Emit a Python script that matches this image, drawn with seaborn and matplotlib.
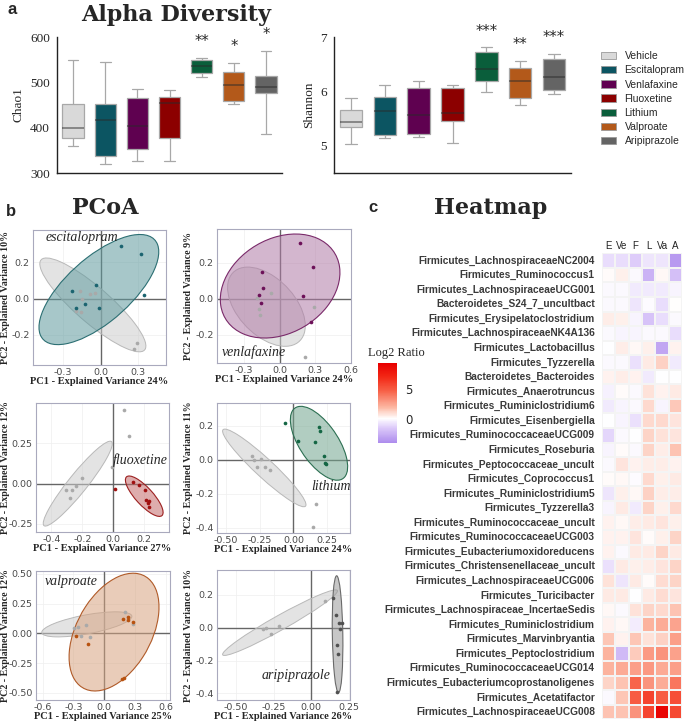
import numpy as np
import pandas as pd
import matplotlib
matplotlib.use("Agg")
import matplotlib.pyplot as plt
import seaborn as sns
from matplotlib.patches import Ellipse, Patch
from matplotlib.colors import LinearSegmentedColormap, to_rgba
from matplotlib.ticker import FormatStrFormatter

# ---------------- data ----------------
groups = ["Vehicle", "Escitalopram", "Venlafaxine", "Fluoxetine",
          "Lithium", "Valproate", "Aripiprazole"]
group_colors = ["#d9d9d9", "#0c5562", "#5f0150", "#8c0000",
                "#0a5e3b", "#b3591a", "#646464"]

# min, q1, median, q3, max per group
chao1_values = [
    [359, 378, 399, 453, 549],
    [320, 338, 417, 453, 544],
    [327, 354, 404, 465, 486],
    [327, 378, 454, 468, 484],
    [511, 521, 536, 549, 553],
    [453, 459, 494, 523, 543],
    [386, 476, 489, 513, 569],
]
chao1_stars = ["", "", "", "", "**", "*", "*"]

shannon_values = [
    [5.03, 5.34, 5.43, 5.66, 5.87],
    [5.15, 5.19, 5.64, 5.90, 6.12],
    [5.17, 5.21, 5.57, 6.06, 6.19],
    [5.06, 5.45, 5.61, 6.06, 6.11],
    [5.98, 6.19, 6.41, 6.72, 6.81],
    [5.75, 5.88, 6.20, 6.43, 6.56],
    [5.96, 6.03, 6.26, 6.59, 6.69],
]
shannon_stars = ["", "", "", "", "***", "**", "***"]

# PCoA points (PC1, PC2): drug group and its vehicle group
esc_pts = [(0.163, 0.289), (0.317, 0.245), (0.344, 0.019), (-0.04, 0.076),
           (-0.226, 0.043), (-0.194, -0.05), (-0.128, -0.031), (-0.013, -0.053)]
esc_veh = [(-0.168, 0.044), (-0.048, 0.033), (-0.088, 0.026), (-0.15, -0.002),
           (-0.2, -0.067), (-0.16, -0.072), (0.29, -0.248), (0.267, -0.281)]
ven_pts = [(0.17, 0.308), (-0.147, 0.148), (0.28, 0.178), (-0.136, 0.059),
           (-0.174, 0.019), (0.194, 0.015), (-0.155, -0.026), (0.264, -0.129)]
ven_veh = [(-0.187, 0.002), (-0.07, 0.033), (-0.171, -0.059), (-0.16, -0.09),
           (0.29, -0.048), (0.213, -0.322)]
flx_pts = [(0.008, -0.036), (0.13, 0.008), (0.163, -0.011), (0.203, -0.042),
           (0.214, -0.1), (0.229, -0.105), (0.223, -0.119), (0.229, -0.142)]
flx_veh = [(0.068, 0.458), (0.1, 0.296), (-0.203, 0.033), (-0.242, -0.017),
           (-0.265, -0.038), (-0.306, -0.042), (-0.282, -0.09), (-0.01, 0.104)]
lit_pts = [(-0.063, 0.216), (0.036, 0.114), (0.191, 0.192), (0.201, 0.171),
           (0.159, 0.104), (0.228, 0.024), (0.233, -0.016), (0.241, -0.022)]
lit_veh = [(-0.305, 0.024), (-0.293, 0.0), (-0.241, 0.008), (-0.273, -0.039),
           (-0.211, -0.039), (-0.174, -0.059), (0.164, -0.259), (0.142, -0.392)]
val_pts = [(0.179, 0.121), (0.228, 0.135), (0.228, 0.11), (0.276, 0.093),
           (-0.276, -0.022), (-0.162, -0.091), (0.172, -0.386), (0.195, -0.375)]
val_veh = [(-0.295, 0.044), (-0.259, 0.05), (-0.181, 0.066), (-0.23, -0.022),
           (-0.139, -0.028), (0.202, 0.176), (0.283, 0.074)]
ari_pts = [(0.148, 0.18), (0.166, 0.074), (0.188, 0.03), (0.206, 0.03),
           (0.192, -0.01), (0.17, -0.106), (0.183, -0.16), (0.17, -0.39)]
ari_veh = [(-0.321, -0.006), (-0.299, -0.004), (-0.215, 0.01), (-0.265, -0.038),
           (0.095, 0.164)]

# confidence ellipses: centre x, centre y, semi-major, semi-minor, angle (deg)
esc_ell = [(-0.015, 0.05, 0.53, 0.20, 28), (-0.063, -0.035, 0.484, 0.11, -30)]
ven_ell = [(0.005, 0.07, 0.51, 0.275, 12), (-0.11, -0.045, 0.35, 0.18, -25)]
flx_ell = [(0.2, -0.078, 0.166, 0.055, -46), (-0.23, 0.0, 0.34, 0.06, 50)]
lit_ell = [(0.19, 0.098, 0.275, 0.13, -46), (-0.216, -0.047, 0.38, 0.06, -36)]
val_ell = [(0.095, 0.01, 0.56, 0.35, 53), (-0.17, 0.075, 0.444, 0.08, 9)]
ari_ell = [(0.177, -0.04, 0.355, 0.035, 91), (-0.207, 0.03, 0.43, 0.045, 27)]

pc1_var = [24, 24, 27, 24, 25, 26]
pc2_var = [10, 9, 12, 11, 12, 10]

taxa = [
    "Firmicutes_LachnospiraceaeNC2004", "Firmicutes_Ruminococcus1",
    "Firmicutes_LachnospiraceaeUCG001", "Bacteroidetes_S24_7_uncultbact",
    "Firmicutes_Erysipelatoclostridium", "Firmicutes_LachnospiraceaeNK4A136",
    "Firmicutes_Lactobacillus", "Firmicutes_Tyzzerella",
    "Bacteroidetes_Bacteroides", "Firmicutes_Anaerotruncus",
    "Firmicutes_Ruminiclostridium6", "Firmicutes_Eisenbergiella",
    "Firmicutes_RuminococcaceaeUCG009", "Firmicutes_Roseburia",
    "Firmicutes_Peptococcaceae_uncult", "Firmicutes_Coprococcus1",
    "Firmicutes_Ruminiclostridium5", "Firmicutes_Tyzzerella3",
    "Firmicutes_Ruminococcaceae_uncult", "Firmicutes_RuminococcaceaeUCG003",
    "Firmicutes_Eubacteriumoxidoreducens", "Firmicutes_Christensenellaceae_uncult",
    "Firmicutes_LachnospiraceaeUCG006", "Firmicutes_Turicibacter",
    "Firmicutes_Lachnospiraceae_IncertaeSedis", "Firmicutes_Ruminiclostridium",
    "Firmicutes_Marvinbryantia", "Firmicutes_Peptoclostridium",
    "Firmicutes_RuminococcaceaeUCG014", "Firmicutes_Eubacteriumcoprostanoligenes",
    "Firmicutes_Acetatifactor", "Firmicutes_LachnospiraceaeUCG008",
]
drug_short = ["E", "Ve", "F", "L", "Va", "A"]
log2_ratio = [
    [-1.0, -1.0, -1.5, -0.7, -0.7, -3.5],
    [0.1, 0.4, -0.2, -2.5, 0.2, -2.0],
    [-0.2, -0.2, -0.6, -0.6, -0.6, -0.3],
    [-0.2, -0.2, -0.7, -0.1, -1.0, 0.05],
    [0.5, 0.4, -0.3, -1.8, -1.0, -0.2],
    [-0.2, -0.3, -0.3, -0.2, -0.2, -1.0],
    [0.0, 0.5, 0.2, 0.4, -3.0, 0.3],
    [-0.2, -0.2, -0.9, 0.6, 1.2, -0.6],
    [0.3, 0.5, 0.3, -0.6, 0.0, 0.0],
    [-0.4, 0.1, -0.2, 0.8, 0.3, 0.6],
    [-0.6, -0.3, -0.2, 1.0, -0.3, 1.4],
    [0.0, -0.3, -0.9, 1.0, 1.0, 0.7],
    [-1.2, -0.2, 0.0, 1.1, 0.8, 0.7],
    [-0.3, 0.1, -0.2, 1.1, 0.5, 1.6],
    [-0.2, 0.7, 0.3, 0.5, 0.5, 0.3],
    [0.1, 0.2, -0.1, 1.0, 0.4, 0.6],
    [-0.7, 0.4, 0.2, 1.2, 0.5, 0.5],
    [-0.3, 0.6, -0.6, 1.1, 0.4, 1.0],
    [0.3, 0.2, 0.5, 0.6, 0.7, 0.4],
    [0.3, 0.3, 0.7, 0.1, 0.4, 1.1],
    [0.3, -0.2, 0.6, 0.6, 1.1, 0.6],
    [-0.9, 0.6, 0.4, 0.5, 0.7, 1.1],
    [0.8, -0.7, 0.6, 0.1, 0.9, 1.1],
    [0.6, 0.6, 0.0, 0.6, 0.9, 0.7],
    [0.2, -0.2, 0.8, 1.1, 1.0, 1.6],
    [0.3, 0.2, -0.5, 2.0, 2.2, 2.5],
    [1.5, 0.3, 1.5, 0.8, 1.2, 2.7],
    [2.0, -2.2, 1.3, 2.8, 3.0, 2.6],
    [2.0, 2.3, 2.7, 2.9, 2.3, 2.7],
    [1.1, 1.6, 4.5, 3.0, 2.2, 4.0],
    [-0.2, 1.5, 4.8, 5.8, 4.8, 5.4],
    [1.6, 1.6, 3.0, 5.8, 9.0, 5.6],
]

# ---------------- figure ----------------
sns.set_style("white")
plt.rcParams["font.family"] = ["DejaVu Sans"]
plt.rcParams["axes.unicode_minus"] = False

W, H = 685, 724
fig = plt.figure(figsize=(W / 100, H / 100), dpi=100)


def px_axes(l, t, w, h):
    return fig.add_axes([l / W, 1 - (t + h) / H, w / W, h / H])


def ftext(x, y, s, **kw):
    fig.text(x / W, 1 - y / H, s, **kw)


serif = "Liberation Serif"
title_kw = dict(family="DejaVu Serif", fontweight="bold", fontsize=16,
                ha="center", va="center")
panel_kw = dict(family="Liberation Sans", fontweight="bold", fontsize=12,
                ha="left", va="center")

ftext(8, 9, "a", **panel_kw)
ftext(176, 15, "Alpha Diversity", **title_kw)
ftext(6, 211, "b", **panel_kw)
ftext(105, 208, "PCoA", **title_kw)
ftext(368, 208, "c", **panel_kw)
ftext(491, 208, "Heatmap", **title_kw)


# ---- a: boxplots ----
def box_panel(ax, values, stars, ylabel, ylim, yticks):
    df = pd.DataFrame({"group": np.repeat(groups, [len(v) for v in values]),
                       "value": np.concatenate(values)})
    sns.boxplot(data=df, x="group", y="value", hue="group", order=groups,
                hue_order=groups, palette=group_colors, saturation=1,
                legend=False, whis=(0, 100), width=0.66, linewidth=0.9,
                linecolor="#a8a8a8",
                medianprops=dict(color="#2a2a2a", alpha=0.6, linewidth=1.1),
                ax=ax)
    span = ylim[1] - ylim[0]
    for i, s in enumerate(stars):
        if s:
            ax.text(i, max(values[i]) + 0.12 * span, s, ha="center",
                    va="center", fontsize=10.5, clip_on=False)
    ax.set_ylim(*ylim)
    ax.set_yticks(yticks)
    ax.set_xticks([])
    ax.set_xlabel("")
    ax.set_ylabel(ylabel, family=serif, fontsize=9.5, labelpad=4)
    for lab in ax.get_yticklabels():
        lab.set_family(serif)
        lab.set_fontsize(9.5)
    ax.tick_params(axis="y", length=4, width=1, color="#222222", pad=1)
    sns.despine(ax=ax)
    for sp in ["left", "bottom"]:
        ax.spines[sp].set_color("#222222")
        ax.spines[sp].set_linewidth(1)


ax_c = px_axes(57, 37, 225, 136)
box_panel(ax_c, chao1_values, chao1_stars, "Chao1", (300, 600),
          [300, 400, 500, 600])
ax_s = px_axes(334, 37, 237, 136)
box_panel(ax_s, shannon_values, shannon_stars, "Shannon", (4.5, 7),
          [5, 6, 7])

handles = [Patch(facecolor=c, edgecolor="#9a9a9a", linewidth=0.6)
           for c in group_colors]
fig.legend(handles, groups, loc="upper left",
           bbox_to_anchor=(597 / W, 1 - 47 / H), frameon=False,
           prop=dict(family="Liberation Sans", size=7.5),
           handlelength=1.45, handleheight=0.7, labelspacing=0.4,
           handletextpad=0.8, borderaxespad=0)

# ---- b: PCoA ----
veh_point = "#a9a9a9"
veh_face = "#cccccc"
veh_edge = "#b8b8b8"

pcoa_panels = [
    # name, pts, veh, ellipses, point col, face, edge, rect, xlim, ylim, xt, yt, xfmt, yfmt, label pos
    ("escitalopram", esc_pts, esc_veh, esc_ell, "#1b6470", "#5f9a9e", "#2c6f73",
     (33, 230, 133, 135), (-0.54, 0.52), (-0.368, 0.38),
     [-0.3, 0, 0.3], [-0.2, 0, 0.2], "%.1f", "%.1f", (-0.44, 0.34)),
    ("venlafaxine", ven_pts, ven_veh, ven_ell, "#6c1058", "#b07aa6", "#7a2a6a",
     (217, 229, 134, 134), (-0.525, 0.55), (-0.358, 0.387),
     [-0.3, 0, 0.3, 0.6], [-0.2, 0, 0.2], "%.1f", "%.1f", (-0.488, -0.30)),
    ("fluoxetine", flx_pts, flx_veh, flx_ell, "#a01010", "#c46a6a", "#9c2020",
     (36, 403, 133, 129), (-0.5, 0.36), (-0.30, 0.50),
     [-0.4, -0.2, 0, 0.2], [-0.25, 0, 0.25], "%.1f", "%.2f", (0.0, 0.145)),
    ("lithium", lit_pts, lit_veh, lit_ell, "#146644", "#72a58e", "#2c6f52",
     (217, 403, 133, 130), (-0.567, 0.42), (-0.43, 0.335),
     [-0.5, -0.25, 0, 0.25], [-0.4, -0.2, 0, 0.2], "%.2f", "%.1f", (0.135, -0.157)),
    ("valproate", val_pts, val_veh, val_ell, "#b8520f", "#d7a380", "#b05a28",
     (36, 571, 134, 129), (-0.665, 0.64), (-0.56, 0.523),
     [-0.6, -0.3, 0, 0.3, 0.6], [-0.5, -0.25, 0, 0.25, 0.5], "%.1f", "%.2f",
     (-0.577, 0.432)),
    ("aripiprazole", ari_pts, ari_veh, ari_ell, "#505050", "#9a9a9a", "#6a6a6a",
     (217, 570, 133, 130), (-0.628, 0.26), (-0.44, 0.35),
     [-0.5, -0.25, 0, 0.25], [-0.4, -0.2, 0, 0.2], "%.2f", "%.1f", (-0.332, -0.29)),
]

for k, (name, pts, veh, ells, pcol, face, edge, rect, xlim, ylim, xt, yt,
        xfmt, yfmt, lpos) in enumerate(pcoa_panels):
    ax = px_axes(*rect)
    ax.set_xlim(*xlim)
    ax.set_ylim(*ylim)
    ax.grid(True, color="#efefef", linewidth=0.5)
    ax.set_axisbelow(True)
    ax.axhline(0, color="#666666", lw=1, zorder=1)
    ax.axvline(0, color="#666666", lw=1, zorder=1)
    (dcx, dcy, da, db, dang), (vcx, vcy, va_, vb, vang) = ells
    ax.add_patch(Ellipse((vcx, vcy), 2 * va_, 2 * vb, angle=vang,
                         facecolor=to_rgba(veh_face, 0.55), edgecolor=veh_edge,
                         lw=0.7, zorder=2))
    ax.add_patch(Ellipse((dcx, dcy), 2 * da, 2 * db, angle=dang,
                         facecolor=to_rgba(face, 0.55), edgecolor=edge,
                         lw=0.8, zorder=3))
    vx, vy = zip(*veh)
    dx, dy = zip(*pts)
    sns.scatterplot(x=list(vx), y=list(vy), color=veh_point, s=7,
                    linewidth=0, ax=ax, zorder=4)
    sns.scatterplot(x=list(dx), y=list(dy), color=pcol, s=7,
                    linewidth=0, ax=ax, zorder=5)
    ax.text(lpos[0], lpos[1], name, family=serif, style="italic",
            fontsize=10, ha="left", va="center", zorder=6)
    ax.set_xticks(xt)
    ax.set_yticks(yt)
    ax.xaxis.set_major_formatter(FormatStrFormatter(xfmt))
    ax.yaxis.set_major_formatter(FormatStrFormatter(yfmt))
    ax.tick_params(labelsize=6.8, labelcolor="#4a4a4a", length=1.5,
                   color="#888888", pad=1)
    for sp in ax.spines.values():
        sp.set_color("#a9a9bd")
        sp.set_linewidth(0.8)
    ax.set_xlabel(f"PC1 - Explained Variance {pc1_var[k]}%", family=serif,
                  fontweight="bold", fontsize=7.5, labelpad=0)
    ax.set_ylabel(f"PC2 - Explained Variance {pc2_var[k]}%", family=serif,
                  fontweight="bold", fontsize=7.2)
    # y-label right edge placed just left of the tick labels
    label_right = 9.6 if rect[0] < 100 else 193
    ax.yaxis.set_label_coords((label_right - rect[0]) / rect[2], 0.5)

# ---- c: heatmap ----
hm = pd.DataFrame(log2_ratio, index=taxa, columns=drug_short)
cmap = LinearSegmentedColormap.from_list("log2", [
    (0.0, (0.33, 0.12, 0.78)),
    (0.28, (0.68, 0.55, 0.93)),
    (0.42, (0.87, 0.80, 0.98)),
    (0.5, (1.0, 1.0, 1.0)),
    (0.6, (0.99, 0.72, 0.64)),
    (0.75, (0.97, 0.38, 0.28)),
    (0.88, (0.95, 0.15, 0.08)),
    (1.0, (0.91, 0.0, 0.0)),
])
hax = px_axes(601.7, 253.3, 80.6, 466)
cax = px_axes(378, 363, 19, 80)
sns.heatmap(hm, ax=hax, cmap=cmap, center=0, vmin=-4.1, vmax=9.3,
            linewidths=0.3, linecolor="#f4f4f4", cbar_ax=cax,
            xticklabels=drug_short, yticklabels=taxa,
            cbar_kws={"ticks": [0, 5]})
hax.xaxis.tick_top()
for lab in hax.get_xticklabels():
    lab.set_rotation(0)
    lab.set_fontsize(7)
    lab.set_family("Liberation Sans")
    lab.set_color("#222222")
for lab in hax.get_yticklabels():
    lab.set_rotation(0)
    lab.set_fontsize(7.3)
    lab.set_family("Liberation Sans")
    lab.set_fontweight("bold")
    lab.set_color("#3a3a3a")
hax.tick_params(axis="x", length=0, pad=2)
hax.tick_params(axis="y", length=1.5, color="#999999", pad=3.5)
hax.set_xlabel("")
hax.set_ylabel("")
cax.tick_params(length=0, labelsize=8.5, pad=6)
for sp in cax.spines.values():
    sp.set_visible(False)
ftext(368, 353, "Log2 Ratio", family=serif, fontsize=9, ha="left", va="center")

fig.savefig("out.png", dpi=100)
